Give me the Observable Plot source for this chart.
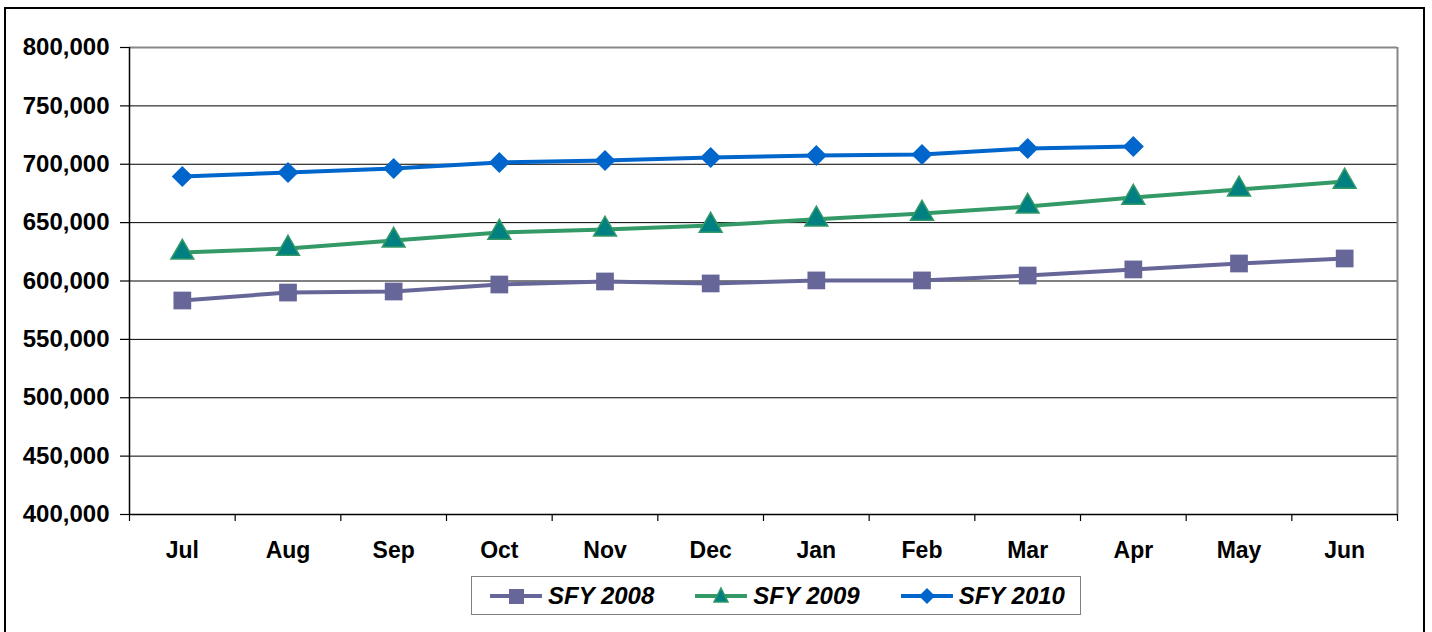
<!DOCTYPE html>
<html>
<head>
<meta charset="utf-8">
<script src="https://cdn.jsdelivr.net/npm/d3@7"></script>
<script src="https://cdn.jsdelivr.net/npm/@observablehq/plot@0.6"></script>
<style>
  html, body { margin: 0; padding: 0; background: #fff; width: 1432px; height: 632px; overflow: hidden; }
  body { position: relative; font-family: "Liberation Sans", Arial, sans-serif; }
  #frame { position: absolute; left: 4px; top: 7px; width: 1417px; height: 640px; border: 2px solid #000; box-sizing: content-box; }
  #chart { position: absolute; left: 0; top: 0; }
  #legend { position: absolute; left: 471px; top: 576px; width: 610px; height: 39px; border: 1.5px solid #808080;
            display: flex; align-items: center; padding-left: 18px; box-sizing: border-box; white-space: nowrap; }
  .item { display: flex; align-items: center; margin-right: 41px; flex: none; }
  .item svg { flex: none; }
  .item span { font-weight: bold; font-style: italic; font-size: 24px; margin-left: 6px; color: #000; white-space: nowrap; }
</style>
</head>
<body>
<div id="frame"></div>
<div id="chart"></div>
<div id="legend"></div>
<script>
const months = ["Jul","Aug","Sep","Oct","Nov","Dec","Jan","Feb","Mar","Apr","May","Jun"];
const sfy2008 = [583300, 590100, 591000, 597000, 599600, 597900, 600500, 600500, 604700, 609900, 615000, 619300];
const sfy2009 = [624400, 627800, 634700, 641500, 644100, 647500, 652800, 657800, 663800, 671500, 678400, 685200];
const sfy2010 = [689500, 693000, 696400, 701500, 703200, 705800, 707500, 708300, 713500, 715200];
const seriesNames = ["SFY 2008", "SFY 2009", "SFY 2010"];
const yTicks = [400000, 450000, 500000, 550000, 600000, 650000, 700000, 750000, 800000];

const colors = {"SFY 2008": "#666699", "SFY 2009": "#339966", "SFY 2010": "#0066CC"};

function rows(name, vals) { return vals.map((v, i) => ({series: name, i, month: months[i], value: v})); }
const d08 = rows("SFY 2008", sfy2008);
const d09 = rows("SFY 2009", sfy2009);
const d10 = rows("SFY 2010", sfy2010);

const idx = months.map((m, i) => i);
const bounds = d3.range(-0.5, months.length, 1);
const font = "'Liberation Sans', Arial, sans-serif";

const chart = Plot.plot({
  width: 1432,
  height: 570,
  marginLeft: 129,
  marginRight: 35,
  marginTop: 47,
  marginBottom: 56,
  style: {fontFamily: font, background: "transparent", overflow: "visible"},
  x: {type: "linear", domain: [-0.5, months.length - 0.5]},
  y: {domain: [400000, 800000]},
  marks: [
    Plot.ruleY(yTicks.slice(1, -1), {stroke: "#000", strokeWidth: 1}),
    Plot.ruleY([800000], {stroke: "#888", strokeWidth: 2}),
    Plot.ruleX([months.length - 0.5], {stroke: "#888", strokeWidth: 2}),
    Plot.axisY({ticks: yTicks, tickFormat: d3.format(","), tickSize: 9, tickPadding: 11, label: null,
      fontSize: 24, fontWeight: "bold", stroke: "#000", strokeWidth: 1.2, color: "#000"}),
    Plot.axisX({ticks: bounds, tickFormat: () => "", tickSize: 7, stroke: "#000", strokeWidth: 1.2, label: null}),
    Plot.axisX({ticks: idx, tickFormat: i => months[i], tickSize: 0, tickPadding: 27, label: null,
      fontSize: 23, fontWeight: "bold", color: "#000"}),
    Plot.ruleX([-0.5], {stroke: "#000", strokeWidth: 1.5}),
    Plot.ruleY([400000], {stroke: "#000", strokeWidth: 1.5}),
    Plot.line(d08, {x: "i", y: "value", stroke: colors["SFY 2008"], strokeWidth: 4}),
    Plot.dot(d08, {x: "i", y: "value", symbol: "square", r: 10, fill: "#666699"}),
    Plot.line(d09, {x: "i", y: "value", stroke: colors["SFY 2009"], strokeWidth: 4}),
    Plot.dot(d09, {x: "i", y: "value", symbol: "triangle", r: 8.5, fill: "#008080", stroke: "#339966", strokeWidth: 1.5}),
    Plot.line(d10, {x: "i", y: "value", stroke: colors["SFY 2010"], strokeWidth: 4}),
    Plot.dot(d10, {x: "i", y: "value", symbol: "diamond2", r: 9.5, fill: "#0066CC"})
  ]
});
document.getElementById("chart").appendChild(chart);

// Legend
const markerSvg = {
  "SFY 2008": `<rect x="19" y="3" width="15" height="15" fill="#666699"/>`,
  "SFY 2009": `<path d="M26,2 L33,16 L19,16 Z" fill="#008080" stroke="#339966" stroke-width="1.5"/>`,
  "SFY 2010": `<path d="M26,2 L34,10 L26,18 L18,10 Z" fill="#0066CC"/>`
};
const legend = document.getElementById("legend");
seriesNames.forEach(name => {
  const item = document.createElement("div");
  item.className = "item";
  item.innerHTML = `<svg width="52" height="20"><line x1="1" x2="51" y1="10" y2="10" stroke="${colors[name]}" stroke-width="4" stroke-linecap="round"/>${markerSvg[name]}</svg><span>${name}</span>`;
  legend.appendChild(item);
});
</script>
</body>
</html>
